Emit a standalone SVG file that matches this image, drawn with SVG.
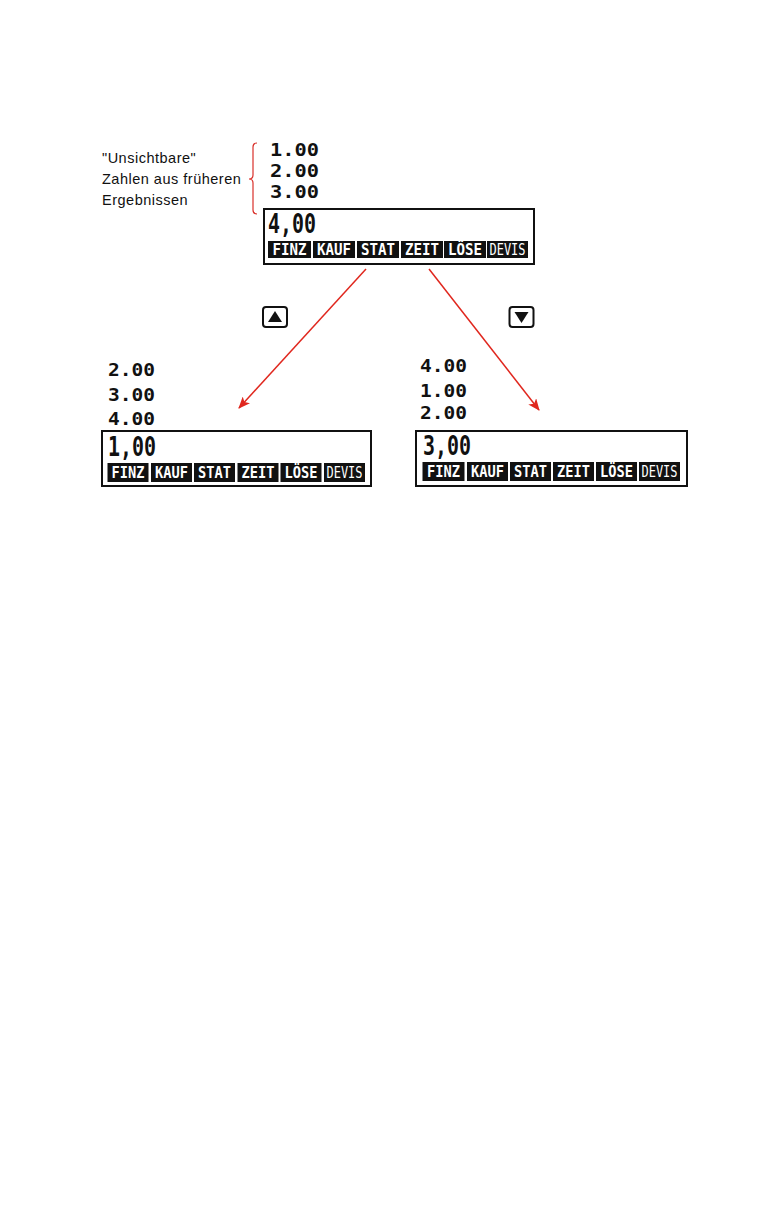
<svg xmlns="http://www.w3.org/2000/svg" width="783" height="1209" viewBox="0 0 783 1209">
<style>
.bg{fill:#fff}
.box{fill:#fff;stroke:#111;stroke-width:2}
.key{fill:#111}
.klab{font-family:"DejaVu Sans Mono","Liberation Mono",monospace;font-weight:bold;font-size:15px;fill:#fff;text-anchor:middle}
.klab2{font-family:"DejaVu Sans Mono","Liberation Mono",monospace;font-weight:normal;font-size:15px;fill:#fff;text-anchor:middle}
.big{font-family:"DejaVu Sans Mono","Liberation Mono",monospace;font-weight:bold;font-size:27px;fill:#111}
.stk{font-family:"DejaVu Sans Mono","Liberation Mono",monospace;font-weight:bold;font-size:18px;fill:#111}
.lbl{font-family:"Liberation Sans","DejaVu Sans",sans-serif;font-size:14.5px;letter-spacing:0.5px;fill:#111}
.arrow{stroke:#e0271e;stroke-width:1.5;fill:none}
.brace{stroke:#d9302a;stroke-width:1.2;fill:none}
.kbtn{fill:#fff;stroke:#111;stroke-width:2}
</style>
<defs>
<marker id="ah" viewBox="0 0 12 10" refX="11" refY="5" markerWidth="12" markerHeight="10" markerUnits="userSpaceOnUse" orient="auto">
<path d="M0,0 L12,5 L0,10 L3,5 Z" fill="#e0271e"/>
</marker>
</defs>
<rect class="bg" x="0" y="0" width="783" height="1209"/>

<g id="label">
<text class="lbl" x="102" y="163">"Unsichtbare"</text>
<text class="lbl" x="102" y="184">Zahlen aus früheren</text>
<text class="lbl" x="102" y="205">Ergebnissen</text>
<path class="brace" d="M257,143 Q253,143 253,147 L253,175 Q253,179 249,179 Q253,179 253,183 L253,210 Q253,214 257,214"/>
</g>

<g id="display-top">
<text class="stk" x="270" y="156" textLength="49" lengthAdjust="spacingAndGlyphs">1.00</text>
<text class="stk" x="270" y="177" textLength="49" lengthAdjust="spacingAndGlyphs">2.00</text>
<text class="stk" x="270" y="198" textLength="49" lengthAdjust="spacingAndGlyphs">3.00</text>
<rect class="box" x="264" y="209" width="270" height="55"/>
<text class="big" x="268" y="233" textLength="48" lengthAdjust="spacingAndGlyphs">4,00</text>
<rect class="key" x="268" y="241" width="43" height="17"/>
<rect class="key" x="313" y="241" width="42" height="17"/>
<rect class="key" x="357" y="241" width="42" height="17"/>
<rect class="key" x="401" y="241" width="42" height="17"/>
<rect class="key" x="444" y="241" width="42" height="17"/>
<rect class="key" x="487" y="241" width="41" height="17"/>
<text class="klab" x="289.5" y="255" textLength="34" lengthAdjust="spacingAndGlyphs">FINZ</text>
<text class="klab" x="334" y="255" textLength="34" lengthAdjust="spacingAndGlyphs">KAUF</text>
<text class="klab" x="378" y="255" textLength="34" lengthAdjust="spacingAndGlyphs">STAT</text>
<text class="klab" x="422" y="255" textLength="34" lengthAdjust="spacingAndGlyphs">ZEIT</text>
<text class="klab" x="465" y="255" textLength="34" lengthAdjust="spacingAndGlyphs">LÖSE</text>
<text class="klab2" x="507.5" y="255" textLength="36" lengthAdjust="spacingAndGlyphs">DEVIS</text>
</g>

<g id="key-up">
<rect class="kbtn" x="263" y="307" width="24" height="20" rx="3"/>
<path d="M275,311 L282,322 L268,322 Z" fill="#111"/>
</g>

<g id="key-down">
<rect class="kbtn" x="509.5" y="307" width="24" height="20" rx="3"/>
<path d="M514.5,312 L528.5,312 L521.5,323 Z" fill="#111"/>
</g>

<g id="display-left">
<text class="stk" x="108" y="376" textLength="47" lengthAdjust="spacingAndGlyphs">2.00</text>
<text class="stk" x="108" y="401" textLength="47" lengthAdjust="spacingAndGlyphs">3.00</text>
<text class="stk" x="108" y="425" textLength="47" lengthAdjust="spacingAndGlyphs">4.00</text>
<rect class="box" x="102" y="431" width="269" height="55"/>
<text class="big" x="108" y="456" textLength="48" lengthAdjust="spacingAndGlyphs">1,00</text>
<rect class="key" x="107.5" y="463" width="41" height="19"/>
<rect class="key" x="151" y="463" width="41" height="19"/>
<rect class="key" x="194" y="463" width="41" height="19"/>
<rect class="key" x="237.5" y="463" width="41" height="19"/>
<rect class="key" x="280.5" y="463" width="41" height="19"/>
<rect class="key" x="324" y="463" width="41" height="19"/>
<text class="klab" x="128" y="478" textLength="33" lengthAdjust="spacingAndGlyphs">FINZ</text>
<text class="klab" x="171.5" y="478" textLength="33" lengthAdjust="spacingAndGlyphs">KAUF</text>
<text class="klab" x="214.5" y="478" textLength="33" lengthAdjust="spacingAndGlyphs">STAT</text>
<text class="klab" x="258" y="478" textLength="33" lengthAdjust="spacingAndGlyphs">ZEIT</text>
<text class="klab" x="301" y="478" textLength="33" lengthAdjust="spacingAndGlyphs">LÖSE</text>
<text class="klab2" x="344.5" y="478" textLength="36" lengthAdjust="spacingAndGlyphs">DEVIS</text>
</g>

<g id="display-right">
<text class="stk" x="420" y="372" textLength="47" lengthAdjust="spacingAndGlyphs">4.00</text>
<text class="stk" x="420" y="397" textLength="47" lengthAdjust="spacingAndGlyphs">1.00</text>
<text class="stk" x="420" y="419" textLength="47" lengthAdjust="spacingAndGlyphs">2.00</text>
<rect class="box" x="416" y="431" width="271" height="55"/>
<text class="big" x="423" y="455" textLength="48" lengthAdjust="spacingAndGlyphs">3,00</text>
<rect class="key" x="422.5" y="462" width="42" height="19"/>
<rect class="key" x="467" y="462" width="41" height="19"/>
<rect class="key" x="510" y="462" width="41" height="19"/>
<rect class="key" x="553" y="462" width="41" height="19"/>
<rect class="key" x="596" y="462" width="41" height="19"/>
<rect class="key" x="639" y="462" width="41" height="19"/>
<text class="klab" x="443.5" y="477" textLength="33" lengthAdjust="spacingAndGlyphs">FINZ</text>
<text class="klab" x="487.5" y="477" textLength="33" lengthAdjust="spacingAndGlyphs">KAUF</text>
<text class="klab" x="530.5" y="477" textLength="33" lengthAdjust="spacingAndGlyphs">STAT</text>
<text class="klab" x="573.5" y="477" textLength="33" lengthAdjust="spacingAndGlyphs">ZEIT</text>
<text class="klab" x="616.5" y="477" textLength="33" lengthAdjust="spacingAndGlyphs">LÖSE</text>
<text class="klab2" x="659.5" y="477" textLength="36" lengthAdjust="spacingAndGlyphs">DEVIS</text>
</g>

<g id="connectors">
<line class="arrow" x1="366" y1="269" x2="239" y2="408" marker-end="url(#ah)"/>
<line class="arrow" x1="429" y1="269" x2="539" y2="410" marker-end="url(#ah)"/>
</g>
</svg>
